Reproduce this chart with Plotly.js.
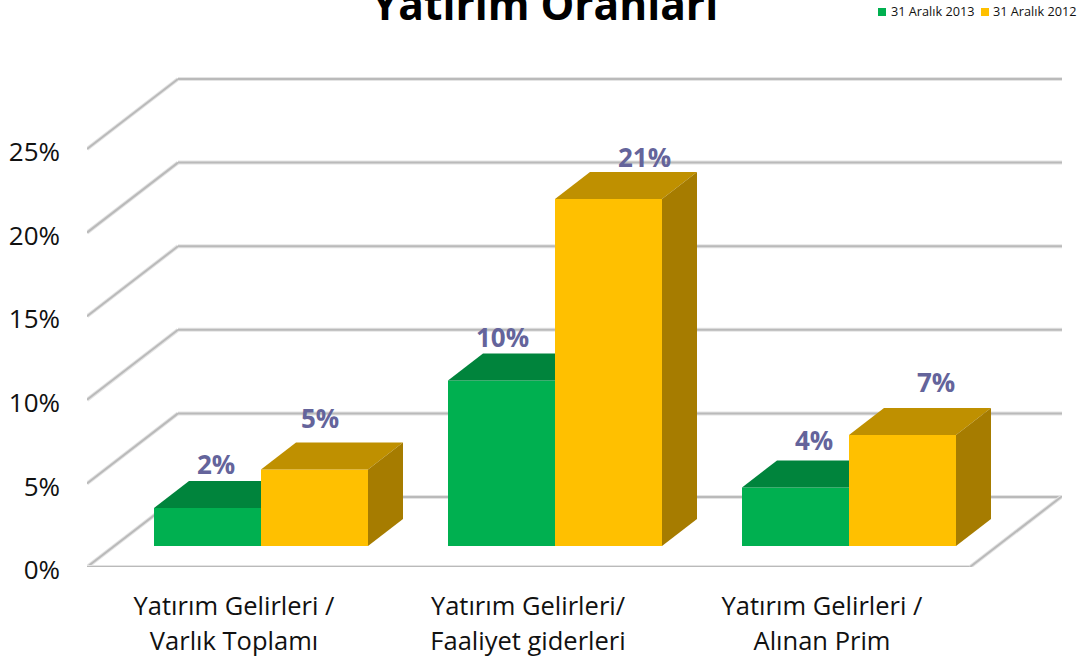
<!DOCTYPE html>
<html><head><meta charset="utf-8">
<script src="https://cdn.plot.ly/plotly-3.0.1.min.js"></script>
<style>html,body{margin:0;padding:0;background:#fff}</style></head>
<body><div id="chart" style="width:1082px;height:658px"></div>
<script>
const chartTitle = "Yatırım Oranları";
const categories = ["Yatırım Gelirleri /<br>Varlık Toplamı", "Yatırım Gelirleri/<br>Faaliyet giderleri", "Yatırım Gelirleri /<br>Alınan Prim"];
const seriesNames = ["31 Aralık 2013", "31 Aralık 2012"];
const values2013 = [2.27, 9.9, 3.5];
const values2012 = [4.57, 20.75, 6.64];
const labels2013 = ["2%", "10%", "4%"];
const labels2012 = ["5%", "21%", "7%"];
const yTicks = [0, 5, 10, 15, 20, 25];

// layout geometry
const W = 1082, H = 658, mL = 87, mR = 20, mT = 60, mB = 91;
const pxPerCat = 294, pxPerPct = 16.72;
const catZeroPx = 261;
const px2x = p => (p - catZeroPx) / pxPerCat;
const len2x = p => p / pxPerCat;
const len2y = p => p / pxPerPct;
const barBase = len2y(21), barW = 107 / pxPerCat, depthX = len2x(35), depthY = len2y(27);
const wallX = len2x(91), wallY = len2y(70);
const floorRight = px2x(970), backRight = px2x(1062), left = px2x(87);
const idx = categories.map((_, i) => i);

const colors = {
  g: {front: "#00B050", top: "#00843C"},
  y: {front: "#FFC000", top: "#BF9000", side: "#A67C00"}
};

function barTrace(vals, name, color) {
  return {type: "bar", x: idx, y: vals, base: vals.map(() => barBase), name, showlegend: false,
    marker: {color, line: {width: 0}}, hoverinfo: "skip"};
}
function poly(xs, ys, color) {
  return {type: "scatter", mode: "lines", x: xs, y: ys, fill: "toself", fillcolor: color,
    line: {width: 0, color}, showlegend: false, hoverinfo: "skip"};
}
const faces = [];
idx.forEach(i => {
  const gl = i - barW, c = i, yr = i + barW;
  const gv = values2013[i] + barBase, yv = values2012[i] + barBase;
  // green top is hidden behind the yellow bar beyond its right edge
  faces.push(poly([gl, c, c, gl + depthX, gl], [gv, gv, gv + depthY, gv + depthY, gv], colors.g.top));
  faces.push(poly([c, yr, yr + depthX, c + depthX, c], [yv, yv, yv + depthY, yv + depthY, yv], colors.y.top));
  faces.push(poly([yr, yr + depthX, yr + depthX, yr, yr],
    [barBase, barBase + depthY, yv + depthY, yv, barBase], colors.y.side));
});

const gridShapes = [];
function gridLine(x0, y0, x1, y1) {
  gridShapes.push({type: "line", layer: "below", xref: "x", yref: "y", x0, y0, x1, y1, line: {color: "#e4e4e4", width: 4}});
  gridShapes.push({type: "line", layer: "below", xref: "x", yref: "y", x0, y0, x1, y1, line: {color: "#bababa", width: 2}});
}
yTicks.forEach(t => {
  gridLine(left, t, left + wallX, t + wallY);
  gridLine(left + wallX, t + wallY, backRight, t + wallY);
});
gridLine(left, 0, floorRight, 0);
gridLine(floorRight, 0, floorRight + wallX, wallY);

// data labels
const off2013 = [[8, -44], [1, -43], [18, -47]];
const off2012 = [[5, -52], [36, -42], [33, -53]];
const labelFont = {family: "Open Sans, sans-serif", size: 26, color: "#64649B", weight: 700};
const annots = [];
idx.forEach(i => {
  annots.push({xref: "x", yref: "y", x: i - barW / 2, y: values2013[i] + barBase, text: "<b>" + labels2013[i] + "</b>",
    showarrow: false, xanchor: "center", yanchor: "middle", xshift: off2013[i][0], yshift: -off2013[i][1], font: labelFont});
  annots.push({xref: "x", yref: "y", x: i + barW / 2, y: values2012[i] + barBase, text: "<b>" + labels2012[i] + "</b>",
    showarrow: false, xanchor: "center", yanchor: "middle", xshift: off2012[i][0], yshift: -off2012[i][1], font: labelFont});
});

// compact legend
const pW = W - mL - mR, pH = H - mT - mB;
const legX = p => (p - mL) / pW, legY = p => 1 - (p - mT) / pH;
const legendItems = [
  {sw: 878, tx: 891, col: colors.g.front, name: seriesNames[0]},
  {sw: 981, tx: 993, col: colors.y.front, name: seriesNames[1]}
];
const legendShapes = legendItems.map(it => ({type: "rect", xref: "paper", yref: "paper",
  x0: legX(it.sw), x1: legX(it.sw + 8), y0: legY(16), y1: legY(8), fillcolor: it.col, line: {width: 0}}));
legendItems.forEach(it => annots.push({xref: "paper", yref: "paper", x: legX(it.tx), y: legY(11), text: it.name,
  showarrow: false, xanchor: "left", yanchor: "middle", xshift: -2,
  font: {family: "Open Sans, sans-serif", size: 12.7, color: "#111"}}));

const layout = {
  width: W, height: H, autosize: false,
  margin: {l: mL, r: mR, t: mT, b: mB, pad: 0},
  paper_bgcolor: "#fff", plot_bgcolor: "rgba(0,0,0,0)",
  title: {text: "<b>" + chartTitle + "</b>", x: 545 / W, xanchor: "center", y: 1 - 5 / H, yanchor: "middle",
    font: {family: "Open Sans, sans-serif", size: 42.5, color: "#000"}},
  barmode: "group", bargap: 1 - 2 * barW, bargroupgap: 0,
  hovermode: false, showlegend: false,
  xaxis: {range: [px2x(87), px2x(W - mR)], tickmode: "array", tickvals: idx.map(i => i + len2x(-27)),
    ticktext: categories.map(c => c.split("<br>").map(s => '<span style="font-size:25.5px">' + s + "</span>").join("<br>")),
    showgrid: false, zeroline: false, showline: false, ticks: "", ticklabelstandoff: 19,
    tickangle: 0, tickfont: {family: "Open Sans, sans-serif", size: 27.5, color: "#111"}},
  yaxis: {range: [0, (H - mT - mB) / pxPerPct], tickmode: "array", tickvals: yTicks, ticktext: yTicks.map(t => t + "%"),
    showgrid: false, zeroline: false, showline: false, ticks: "", ticklabelstandoff: 26, ticklabelshift: 3,
    tickfont: {family: "Open Sans, sans-serif", size: 26, color: "#111"}},
  shapes: gridShapes.concat(legendShapes),
  annotations: annots
};
Plotly.newPlot("chart", [barTrace(values2013, seriesNames[0], colors.g.front), barTrace(values2012, seriesNames[1], colors.y.front)].concat(faces), layout, {displayModeBar: false, staticPlot: true});
</script></body></html>
